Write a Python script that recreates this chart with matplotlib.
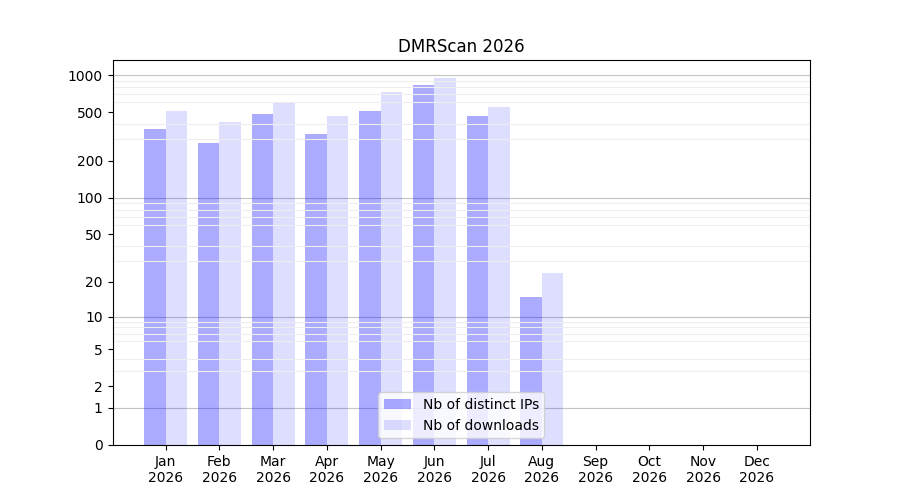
import numpy as np
import matplotlib
matplotlib.use("Agg")
import matplotlib.pyplot as plt
from matplotlib.ticker import FixedLocator

mois = ['Jan', 'Feb', 'Mar', 'Apr', 'May', 'Jun', 'Jul', 'Aug', 'Sep', 'Oct', 'Nov', 'Dec']
annee = '2026'
ips = [365, 281, 483, 332, 511, 831, 465, 15, 0, 0, 0, 0]
downloads = [511, 416, 605, 465, 729, 946, 550, 24, 0, 0, 0, 0]
yticks = [0, 1, 2, 5, 10, 20, 50, 100, 200, 500, 1000]

def fwd(v):
    return np.log10(1 + np.clip(v, 0, None))

def inv(v):
    return 10 ** v - 1

fig, ax = plt.subplots(figsize=(9, 5), dpi=100)
x = np.arange(len(mois))
ax.bar(x - 0.2, ips, 0.4, color='blue', alpha=0.33, label='Nb of distinct IPs')
ax.bar(x + 0.2, downloads, 0.4, color='blue', alpha=0.13, label='Nb of downloads')

ax.set_yscale('function', functions=(fwd, inv))
ax.set_ylim(0, 1324)
ax.yaxis.set_major_locator(FixedLocator(yticks))
ax.set_yticklabels([str(t) for t in yticks])
mineurs = [m * 10 ** k for k in range(0, 4) for m in range(2, 10)]
ax.yaxis.set_minor_locator(FixedLocator(mineurs))
ax.tick_params(axis='y', which='minor', length=0)
ax.grid(True, axis='y', which='minor', color='#eeeeee', linewidth=0.8)
for g in [1, 10, 100, 1000]:
    ax.axhline(g, color='#c4c4c4', linewidth=0.8, zorder=0.5)

ax.set_xticks(x)
ax.set_xticklabels([m + '\n' + annee for m in mois])
ax.set_title('DMRScan 2026')
ax.legend(loc='lower center')
fig.savefig('out.png')
